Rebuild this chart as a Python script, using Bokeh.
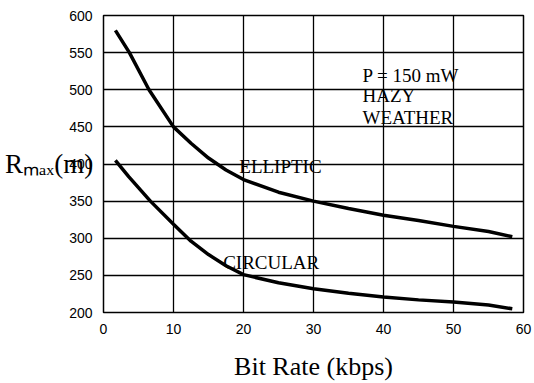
from bokeh.plotting import figure
from bokeh.models import Label, Range1d, FixedTicker
from bokeh.embed import file_html
from bokeh.resources import INLINE

# Data
elliptic_x = [1.7, 3.7, 6.5, 10, 12.5, 15, 17.5, 20, 25, 30, 35, 40, 45, 50, 55, 58.4]
elliptic_y = [580, 550, 500, 450, 428, 408, 392, 379, 362, 350, 340, 331, 324, 316, 309, 302]
circular_x = [1.7, 3.6, 6.7, 10, 12.5, 15, 17.5, 20, 25, 30, 35, 40, 45, 50, 55, 58.4]
circular_y = [405, 383, 350, 319, 296, 278, 263, 251, 240, 232, 226, 221, 217, 214, 210, 205]
x_ticks = [0, 10, 20, 30, 40, 50, 60]
y_ticks = [200, 250, 300, 350, 400, 450, 500, 550, 600]

SERIF = "Liberation Serif"
SANS = "Liberation Sans"

p = figure(width=534, height=383, output_backend="svg", toolbar_location=None,
           x_range=Range1d(0, 60), y_range=Range1d(200, 600),
           min_border_left=103, min_border_top=15, min_border_right=11, min_border_bottom=0)
p.background_fill_color = "white"
p.border_fill_color = "white"
p.outline_line_color = "black"
p.outline_line_width = 1.5
p.outline_line_alpha = 1.0

for ax in (p.xaxis[0], p.yaxis[0]):
    ax.major_tick_line_color = None
    ax.minor_tick_line_color = None
    ax.axis_line_color = None
    ax.major_label_text_font = SANS
    ax.major_label_text_font_size = "14px"
    ax.major_label_text_color = "black"
    ax.major_label_standoff = 5

p.xaxis.ticker = FixedTicker(ticks=x_ticks)
p.yaxis.ticker = FixedTicker(ticks=y_ticks)
p.xaxis.axis_label = "Bit Rate (kbps)"
p.xaxis.axis_label_text_font = SERIF
p.xaxis.axis_label_text_font_style = "normal"
p.xaxis.axis_label_text_font_size = "26px"
p.xaxis.axis_label_text_color = "black"
p.xaxis.axis_label_standoff = 15

# y-axis label R_max(m), horizontal
yax = p.yaxis[0]
yax.axis_label = "R\u2098\u2090\u2093(m)"
yax.axis_label_text_font = SERIF
yax.axis_label_text_font_style = "normal"
yax.axis_label_text_font_size = "27px"
yax.axis_label_text_color = "black"
yax.axis_label_standoff = -27
try:
    yax.axis_label_orientation = "horizontal"
except Exception:
    pass

p.xgrid.ticker = FixedTicker(ticks=x_ticks)
p.ygrid.ticker = FixedTicker(ticks=y_ticks)
for g in (p.xgrid[0], p.ygrid[0]):
    g.grid_line_color = "black"
    g.grid_line_width = 1.3
    g.grid_line_alpha = 1.0
    g.level = "glyph"

p.line(elliptic_x, elliptic_y, line_color="black", line_width=3.5)
p.line(circular_x, circular_y, line_color="black", line_width=3.5)

def lab(x, y, text, size, font=SERIF):
    p.add_layout(Label(x=x, y=y, text=text, text_font=font,
                       text_font_size=size, text_color="black", text_align="left",
                       text_baseline="alphabetic"))

lab(19.4, 396, "ELLIPTIC", "19px")
lab(17.1, 268, "CIRCULAR", "19px")
lab(37.0, 519, "P = 150 mW", "19px")
lab(37.0, 492, "HAZY", "19px")
lab(37.0, 463, "WEATHER", "19px")

open("out.html", "w").write(file_html(p, INLINE))
